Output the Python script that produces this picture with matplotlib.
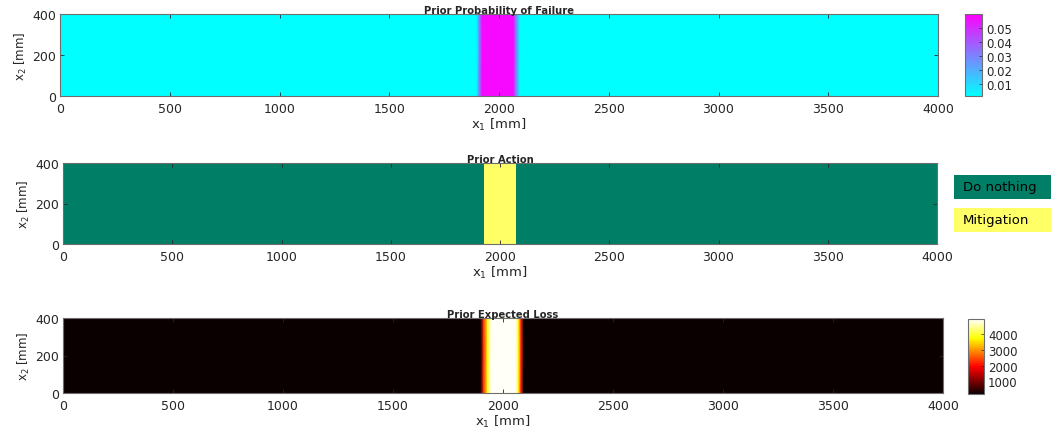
import numpy as np
import matplotlib
matplotlib.use("Agg")
import matplotlib.pyplot as plt
from matplotlib.colors import ListedColormap
from matplotlib.patches import Rectangle

plt.rcParams['font.family'] = ['DejaVu Sans']
plt.rcParams['mathtext.default'] = 'regular'

# profiles along x1 (constant along x2)
x2_edges = [0, 400]

pf_x1 = [0, 1898, 1910, 1924, 2064, 2078, 2095, 4000]
pf_val = [0.0015, 0.0015, 0.03, 0.058, 0.058, 0.03, 0.0015, 0.0015]

action_x1 = [0, 1925, 2075, 4000]
action_val = [0, 1, 0]
action_names = ['Do nothing', 'Mitigation']
action_colors = ['#007f66', '#ffff66']

loss_x1 = [0, 1898, 1911, 1930, 1946, 2058, 2070, 2082, 2094, 4000]
loss_val = [200, 200, 2200, 3800, 4900, 4900, 3800, 2200, 200, 200]

xticks = [0, 500, 1000, 1500, 2000, 2500, 3000, 3500, 4000]
yticks = [0, 200, 400]

W, H = 1051, 435
fig = plt.figure(figsize=(W / 100, H / 100), dpi=100)
tc = '#262626'


def box(l, t, r, b):
    return [l / W, 1 - b / H, (r - l) / W, (b - t) / H]


def style(ax, title):
    ax.set_xlim(0, 4000)
    ax.set_ylim(0, 400)
    ax.set_xticks(xticks)
    ax.set_yticks(yticks)
    ax.tick_params(direction='in', length=3, width=0.6, colors=tc,
                   labelsize=9, pad=3, top=True, right=True)
    ax.tick_params(axis='x', pad=4)
    for s in ax.spines.values():
        s.set_color('#6e6e6e')
        s.set_linewidth(0.8)
    ax.set_xlabel('x$_1$ [mm]', fontsize=9.5, color=tc, labelpad=1)
    ax.set_ylabel('x$_2$ [mm]', fontsize=8.5, color=tc, labelpad=2)
    ax.set_title(title, fontsize=7.2, fontweight='bold', color=tc, pad=1)


def cbar_style(cb):
    cb.ax.tick_params(direction='in', length=2, width=0.5, colors=tc,
                      labelsize=8.5, pad=3)
    cb.outline.set_edgecolor('#6e6e6e')
    cb.outline.set_linewidth(0.8)


# panel 1
ax1 = fig.add_axes(box(60, 15, 938, 97))
X, Y = np.meshgrid(pf_x1, x2_edges)
C = np.vstack([pf_val, pf_val])
m1 = ax1.pcolormesh(X, Y, C, shading='gouraud', cmap='cool', vmin=0.0015, vmax=0.06)
style(ax1, 'Prior Probability of Failure')
cax1 = fig.add_axes(box(965, 15, 982, 97))
cb1 = fig.colorbar(m1, cax=cax1, ticks=[0.01, 0.02, 0.03, 0.04, 0.05])
cb1.ax.set_yticklabels(['0.01', '0.02', '0.03', '0.04', '0.05'])
cbar_style(cb1)

# panel 2
ax2 = fig.add_axes(box(63, 164, 937, 245))
X2, Y2 = np.meshgrid(action_x1, x2_edges)
ax2.pcolormesh(X2, Y2, np.array([action_val]), cmap=ListedColormap(action_colors),
               vmin=-0.5, vmax=1.5)
style(ax2, 'Prior Action')
for i, (name, col) in enumerate(zip(action_names, action_colors)):
    t = 176 + i * 33
    fig.patches.append(Rectangle((954 / W, 1 - (t + 24) / H), 120 / W, 24 / H,
                                 transform=fig.transFigure, facecolor=col,
                                 edgecolor='none'))
    fig.text(963 / W, 1 - (t + 12) / H, name, fontsize=9.5, color='black',
             va='center', ha='left')

# panel 3
ax3 = fig.add_axes(box(63, 319, 943, 394))
X3, Y3 = np.meshgrid(loss_x1, x2_edges)
C3 = np.vstack([loss_val, loss_val])
m3 = ax3.pcolormesh(X3, Y3, C3, shading='gouraud', cmap='hot', vmin=200, vmax=4950)
style(ax3, 'Prior Expected Loss')
cax3 = fig.add_axes(box(968, 320, 984, 395))
cb3 = fig.colorbar(m3, cax=cax3, ticks=[1000, 2000, 3000, 4000])
cbar_style(cb3)

fig.savefig('out.png', dpi=100)
